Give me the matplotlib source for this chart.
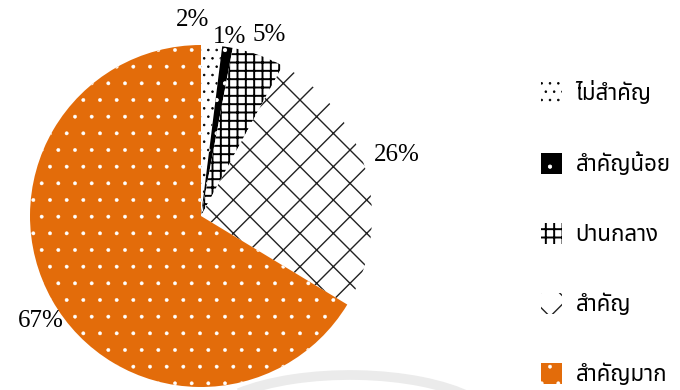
import matplotlib
matplotlib.use("Agg")
import numpy as np
import matplotlib.pyplot as plt
from matplotlib.patches import Arc

# ระดับความสำคัญ (ร้อยละ)
categories = ["ไม่สำคัญ", "สำคัญน้อย", "ปานกลาง", "สำคัญ", "สำคัญมาก"]
values = [2, 1, 5, 26, 67]

face_colors = ["white", "black", "white", "white", "#E36C0A"]
hatch_colors = ["black", "white", "black", "#222222", "#ffffff"]
hatches = ["..", ".", "++", "x", "."]
hatch_lw = [0.6, 0.6, 1.4, 1.0, 0.3]

# label placement (radius, angle shift in degrees)
label_r = [1.15, 1.06, 1.13, 1.2, 1.12]
label_shift = [6, 0, -1, 2, 4]

plt.rcParams["hatch.linewidth"] = 0.6

fig = plt.figure(figsize=(6.8, 3.9), dpi=100)
ax = fig.add_axes([30 / 680, 3 / 390, 342 / 680, 342 / 390])

wedges, _ = ax.pie(values, startangle=90, counterclock=False, radius=1,
                   wedgeprops=dict(linewidth=0))
for w, fc, hc, h, lw in zip(wedges, face_colors, hatch_colors, hatches, hatch_lw):
    w.set_facecolor(fc)
    w.set_edgecolor(hc)
    w.set_hatch(h)
    w.set_linewidth(0)
    if hasattr(w, "set_hatch_linewidth"):
        w.set_hatch_linewidth(lw)

for w, v, r, s in zip(wedges, values, label_r, label_shift):
    ang = np.deg2rad((w.theta1 + w.theta2) / 2 + s)
    ax.text(r * np.cos(ang), r * np.sin(ang), "%d%%" % v, ha="center", va="center",
            fontsize=18, family="Liberation Serif")

ax.set_xlim(-1, 1)
ax.set_ylim(-1, 1)

# faint shadow arc under the pie
fig.patches.append(Arc((350 / 680, -40 / 390), 300 / 680, 110 / 390, theta1=25, theta2=150,
                       transform=fig.transFigure, color="#ebebeb", lw=7, zorder=0))

leg = fig.legend(wedges, categories, loc="upper left", bbox_to_anchor=(541 / 680, 1 - 81 / 390),
                 frameon=False, prop=dict(family="Noto Sans Thai", size=16),
                 handlelength=0.95, handleheight=1.05, handletextpad=0.6,
                 labelspacing=2.12, borderpad=0, borderaxespad=0)
for hnd, lw in zip(leg.legend_handles, hatch_lw):
    if hasattr(hnd, "set_hatch_linewidth"):
        hnd.set_hatch_linewidth(lw)

fig.savefig("out.png")
